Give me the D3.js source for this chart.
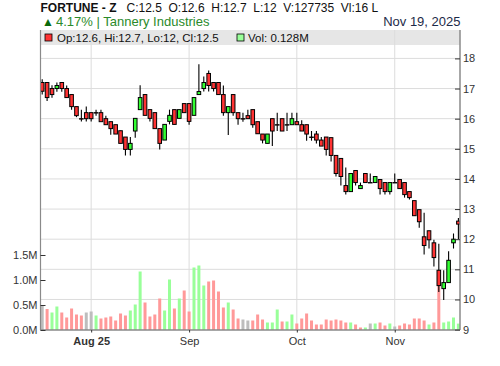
<!DOCTYPE html>
<html><head><meta charset="utf-8">
<script src="https://cdn.jsdelivr.net/npm/d3@7"></script>
<style>
body{margin:0;background:#fff}
svg{display:block;font-family:"Liberation Sans",Arial,sans-serif}
</style>
</head><body>
<svg id="c" width="500" height="366"></svg>
<script>
// ---- data ----
const ticker = "FORTUNE - Z";
const company = "Tannery Industries";
const dateLabel = "Nov 19, 2025";
const lastVolumeShares = 127735;
const volLabel = "Vl:16 L";
const opens  = [17.20,17.20,17.00,17.00,17.20,17.00,16.80,16.40,16.00,16.20,16.20,16.20,16.20,16.00,15.90,15.80,15.60,15.39,14.98,15.59,
                16.30,16.80,16.30,16.20,15.67,15.29,15.91,16.30,16.01,16.50,16.50,16.11,16.80,17.00,17.50,17.20,17.20,16.80,16.20,16.80,
                16.20,16.00,16.10,16.30,15.90,15.49,15.18,16.00,15.80,16.00,15.80,15.80,15.90,15.80,15.80,15.39,15.49,15.29,15.39,15.37,
                14.78,14.68,13.78,13.58,14.28,13.68,14.18,13.88,13.88,13.98,13.88,13.58,13.88,13.98,13.88,13.58,13.28,12.98,12.08,12.28,
                11.88,10.97,10.36,10.56,11.88,12.6];
const highs  = [17.31,17.22,17.11,17.20,17.20,17.10,16.80,16.40,16.30,16.40,16.20,16.30,16.30,16.10,15.90,15.80,15.60,15.39,15.39,16.01,
                17.11,16.80,16.30,16.20,15.67,15.81,16.30,16.30,16.30,16.50,16.50,16.70,17.81,17.40,17.60,17.20,17.20,17.10,16.40,16.80,
                16.20,16.20,16.30,16.30,15.90,15.49,15.49,16.00,16.20,16.00,16.20,16.20,16.20,15.95,15.80,15.59,15.59,15.39,15.39,15.37,
                14.78,14.68,14.38,14.18,14.28,13.88,14.18,14.18,14.08,13.98,13.88,13.88,14.18,13.98,13.88,13.58,13.28,12.98,12.88,12.28,
                11.98,11.85,10.97,11.60,12.19,12.7];
const lows   = [16.80,16.59,16.69,16.89,16.89,16.70,16.30,16.05,15.91,15.91,15.91,16.10,15.91,15.80,15.47,15.49,15.18,14.78,14.78,15.37,
                16.30,16.11,15.91,15.67,14.98,15.29,15.81,15.81,16.01,16.20,15.80,16.11,16.80,16.90,16.90,16.90,16.80,16.10,15.46,16.10,
                15.80,15.90,16.00,15.70,15.50,15.18,15.18,15.09,15.59,15.59,15.59,15.80,15.80,15.59,15.27,15.27,15.18,15.09,14.78,14.58,
                14.08,13.78,13.48,13.58,13.78,13.68,13.88,13.88,13.88,13.48,13.48,13.48,13.88,13.68,13.38,13.32,12.78,12.38,11.49,11.69,
                11.09,10.25,9.98,10.56,11.69,12];
const closes = [16.91,16.70,16.80,17.10,17.00,16.70,16.40,16.10,16.00,16.00,16.00,16.20,15.90,15.80,15.67,15.49,15.18,14.98,15.18,16.01,
                16.70,16.11,16.01,15.67,15.18,15.81,16.11,15.81,16.30,16.20,15.91,16.70,16.90,17.20,17.10,17.00,16.80,16.20,16.40,16.20,
                16.00,16.00,16.00,15.80,15.50,15.29,15.49,15.59,15.80,15.59,15.80,16.00,15.80,15.59,15.49,15.39,15.29,15.09,14.98,14.78,
                14.18,14.08,13.58,14.18,13.88,13.78,13.88,13.88,14.08,13.68,13.58,13.88,13.88,13.68,13.48,13.38,12.78,12.58,11.79,11.98,
                11.39,10.46,10.56,11.30,12.00,12.5];
const volumes = [490000,420000,350000,470000,350000,250000,430000,310000,290000,350000,370000,290000,230000,250000,270000,190000,330000,290000,390000,510000,
                 1170000,550000,270000,310000,630000,390000,1010000,430000,630000,790000,370000,1250000,1290000,890000,970000,990000,770000,450000,550000,410000,
                 230000,210000,190000,190000,310000,210000,150000,150000,410000,170000,170000,310000,130000,230000,330000,190000,110000,110000,210000,190000,
                 210000,190000,150000,150000,110000,50000,50000,130000,130000,150000,90000,130000,70000,90000,130000,110000,230000,230000,190000,110000,
                 150000,890000,150000,170000,250000,127735];
const monthTickIndex = [10, 30, 52, 72];
const monthTickLabels = ["Aug 25", "Sep", "Oct", "Nov"];
const priceTicks = [9,10,11,12,13,14,15,16,17,18];
const volumeTicks = [0, 500000, 1000000, 1500000];

// ---- layout ----
const svg = d3.select("#c");
const L = 40.5, R = 460, FT = 30, PT = 45, B = 330;
const n = closes.length;
const idx = d3.range(n);

const x = d3.scalePoint().domain(idx).range([42.2, 458.4]);
const y = d3.scaleLinear().domain([9, 18]).range([329.6, 58.4]);
const yv = d3.scaleLinear().domain([0, 1500000]).range([330, 255]);

// legend background
svg.append("rect").attr("x", L).attr("y", FT).attr("width", R - L).attr("height", PT - FT).attr("fill", "#e6e6e6");

// gridlines
const grid = svg.append("g");
grid.selectAll("line.h").data(priceTicks.filter(t => t > 9)).join("line")
  .attr("x1", L).attr("x2", R).attr("y1", d => y(d)).attr("y2", d => y(d))
  .attr("stroke", "#dcdcdc").attr("stroke-width", 1);
grid.selectAll("line.v").data(monthTickIndex).join("line")
  .attr("x1", d => x(d)).attr("x2", d => x(d)).attr("y1", FT).attr("y2", B)
  .attr("stroke", "#dcdcdc").attr("stroke-width", 1);

// clip
svg.append("clipPath").attr("id", "clip").append("rect")
  .attr("x", L + 0.5).attr("y", PT).attr("width", R - L - 0.5).attr("height", B - PT);
const plot = svg.append("g").attr("clip-path", "url(#clip)");

// volume bars
const volColor = i => {
  if (i === 0) return "#bdbdbd";
  if (closes[i] > closes[i - 1]) return "#99ff99";
  if (closes[i] < closes[i - 1]) return "#ff9999";
  return "#bdbdbd";
};
plot.selectAll("rect.vol").data(idx).join("rect")
  .attr("x", i => x(i) - 1.5).attr("width", 3)
  .attr("y", i => yv(volumes[i])).attr("height", i => yv(0) - yv(volumes[i]))
  .attr("fill", i => volColor(i));

// candles
const cg = plot.selectAll("g.c").data(idx).join("g");
cg.append("line")
  .attr("x1", i => x(i)).attr("x2", i => x(i))
  .attr("y1", i => y(highs[i])).attr("y2", i => y(lows[i]))
  .attr("stroke", "#000").attr("stroke-width", 1.1);
cg.append("rect")
  .attr("x", i => x(i) - 1.8).attr("width", 3.6)
  .attr("y", i => y(Math.max(opens[i], closes[i])))
  .attr("height", i => Math.max(Math.abs(y(opens[i]) - y(closes[i])), 0.4))
  .attr("fill", i => closes[i] > opens[i] ? "#33ff33" : "#ff3333")
  .attr("stroke", "#000").attr("stroke-width", 1);

// frame lines
svg.append("line").attr("x1", L).attr("x2", L).attr("y1", FT).attr("y2", B).attr("stroke", "#8a8a8a").attr("stroke-width", 1.2);
svg.append("line").attr("x1", R).attr("x2", R).attr("y1", FT).attr("y2", B).attr("stroke", "#8a8a8a").attr("stroke-width", 1.5);
svg.append("line").attr("x1", L).attr("x2", R).attr("y1", B).attr("y2", B).attr("stroke", "#8a8a8a").attr("stroke-width", 1.5);

// axes
const ax = g => { g.select(".domain").remove(); g.selectAll("text").attr("fill", "#333").style("font-size", "11px"); g.selectAll("line").attr("stroke", "#333"); };
svg.append("g").attr("transform", `translate(${R},0)`)
  .call(d3.axisRight(y).tickValues(priceTicks).tickSize(-5).tickPadding(3).tickFormat(d3.format("d")))
  .call(ax).attr("font-family", null);
svg.append("g").attr("transform", `translate(${L},0)`)
  .call(d3.axisLeft(yv).tickValues(volumeTicks).tickSize(-5).tickPadding(3).tickFormat(d => (d / 1e6).toFixed(1) + "M"))
  .call(ax).attr("font-family", null);
const xa = svg.append("g").attr("transform", `translate(0,${B})`)
  .call(d3.axisBottom(x).tickValues(monthTickIndex).tickSize(2.5).tickPadding(4.5)
    .tickFormat(d => monthTickLabels[monthTickIndex.indexOf(d)]))
  .call(ax).attr("font-family", null);
xa.selectAll("text").style("font-weight", (d, k) => k === 0 ? "bold" : "normal");

// legend content
const last = n - 1;
const lg = svg.append("g").style("font-size", "11.5px").attr("fill", "#111");
lg.append("rect").attr("x", 45).attr("y", 34).attr("width", 7).attr("height", 7).attr("fill", "#ff3333").attr("stroke", "#000").attr("stroke-width", 0.8);
lg.append("text").attr("x", 57).attr("y", 41.5)
  .text(`Op:${opens[last]}, Hi:${highs[last]}, Lo:${lows[last]}, Cl:${closes[last]}`);
lg.append("rect").attr("x", 237).attr("y", 34).attr("width", 7).attr("height", 7).attr("fill", "#99ff99").attr("stroke", "#000").attr("stroke-width", 0.8);
lg.append("text").attr("x", 248).attr("y", 41.5).text(`Vol: ${(volumes[last] / 1e6).toFixed(3)}M`);

// header
const h = svg.append("text").attr("x", 40.5).attr("y", 11.5).style("font-size", "12px").attr("fill", "#111").attr("xml:space", "preserve").style("white-space", "pre");
h.append("tspan").style("font-weight", "bold").text(ticker);
h.append("tspan").text(`   C:${closes[last]}  O:${opens[last]}  H:${highs[last]}  L:${lows[last]}  V:${lastVolumeShares}  ${volLabel}`);

const chg = (closes[last] - closes[last - 1]) / closes[last - 1] * 100;
svg.append("text").attr("x", 42).attr("y", 25.5).style("font-size", "12px").attr("fill", "#0a6a0a").text(chg >= 0 ? "▲" : "▼");
svg.append("text").attr("x", 56).attr("y", 25.5).style("font-size", "13px").attr("fill", "#2a8a2a")
  .text(`${chg.toFixed(2)}% | ${company}`);
svg.append("text").attr("x", 460.5).attr("y", 25.5).attr("text-anchor", "end").style("font-size", "13px").attr("fill", "#1c2a48")
  .text(dateLabel);
</script>
</body></html>
